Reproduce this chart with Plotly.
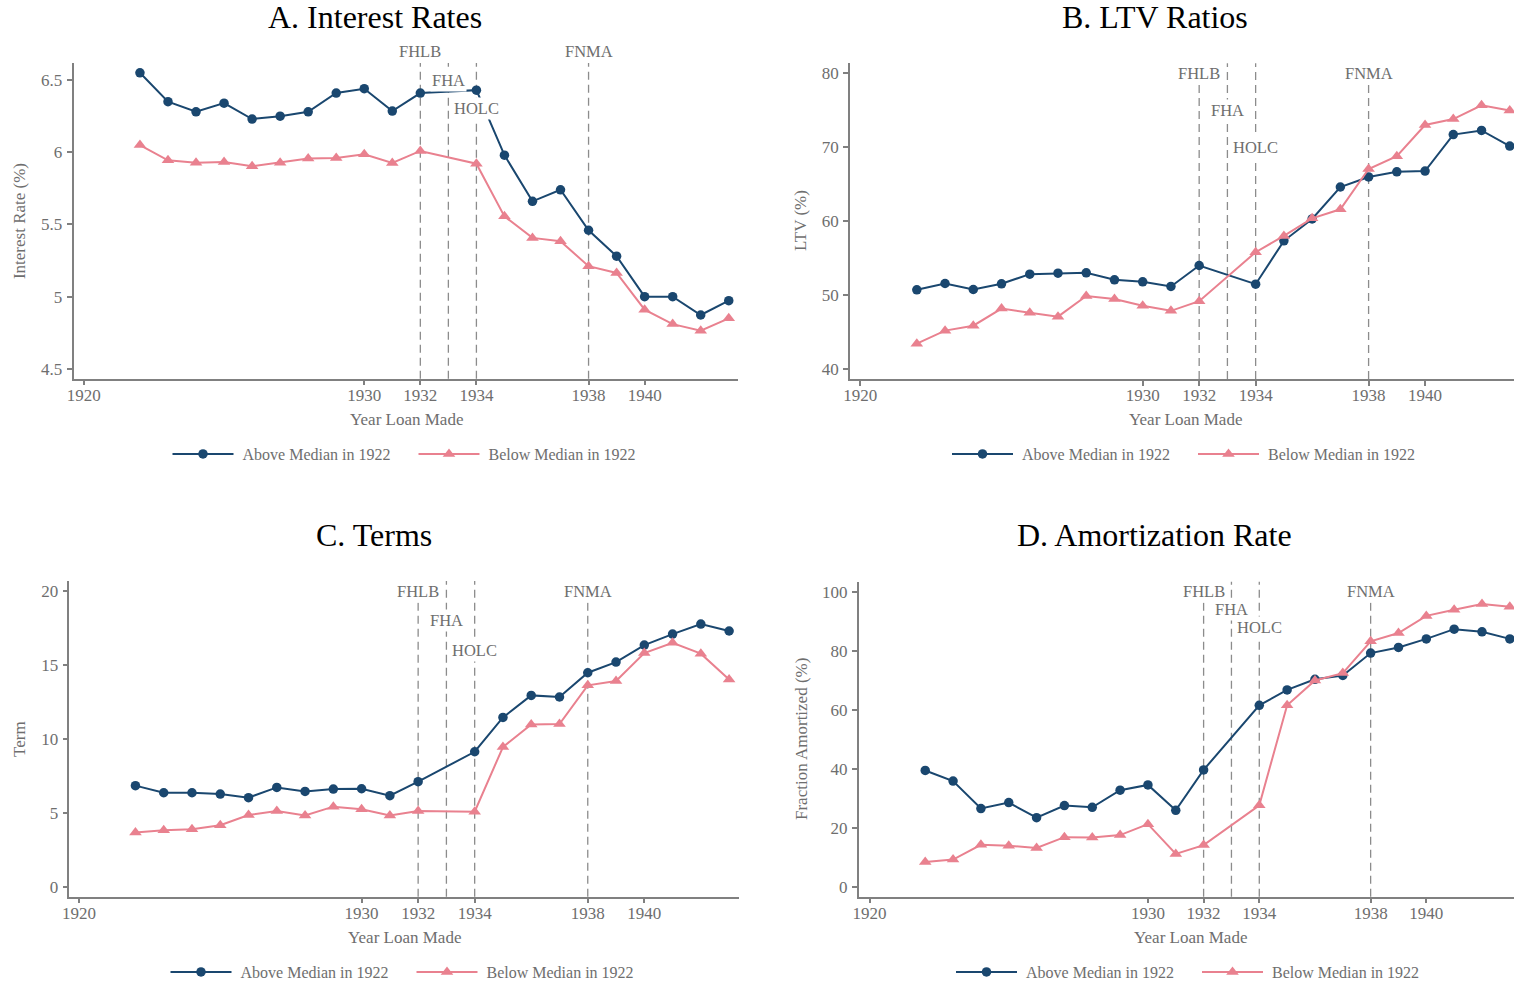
import plotly.graph_objects as go

# ---------------- data ----------------
years = [1922, 1923, 1924, 1925, 1926, 1927, 1928, 1929, 1930, 1931, 1932,
         1934, 1935, 1936, 1937, 1938, 1939, 1940, 1941, 1942, 1943]

rate_above = [6.55, 6.35, 6.28, 6.34, 6.23, 6.25, 6.28, 6.41, 6.44, 6.285, 6.41,
              6.43, 5.98, 5.66, 5.74, 5.46, 5.28, 5.00, 5.00, 4.873, 4.972]
rate_below = [6.05, 5.944, 5.928, 5.933, 5.903, 5.928, 5.956, 5.961, 5.986, 5.926, 6.009,
              5.921, 5.556, 5.407, 5.384, 5.211, 5.164, 4.91, 4.81, 4.764, 4.85]

ltv_above = [50.68, 51.53, 50.72, 51.49, 52.8, 52.93, 52.98, 52.03, 51.76, 51.13, 53.97,
             51.44, 57.31, 60.27, 64.6, 65.96, 66.66, 66.75, 71.7, 72.26, 70.14]
ltv_below = [43.39, 45.15, 45.82, 48.13, 47.58, 47.04, 49.84, 49.44, 48.51, 47.83, 49.14,
             55.77, 57.98, 60.36, 61.58, 67.04, 68.76, 73.0, 73.8, 75.67, 74.95]

term_above = [6.85, 6.37, 6.37, 6.28, 6.04, 6.73, 6.46, 6.62, 6.64, 6.17, 7.12,
              9.14, 11.46, 12.95, 12.84, 14.48, 15.2, 16.35, 17.09, 17.77, 17.3]
term_below = [3.69, 3.83, 3.9, 4.17, 4.86, 5.14, 4.84, 5.43, 5.25, 4.84, 5.14,
              5.09, 9.46, 10.99, 11.01, 13.63, 13.92, 15.81, 16.51, 15.77, 14.03]

amort_above = [39.4, 35.8, 26.5, 28.5, 23.4, 27.5, 26.9, 32.7, 34.5, 25.9, 39.6,
               61.5, 66.7, 70.3, 71.6, 79.2, 81.1, 84.0, 87.3, 86.4, 84.0]
amort_below = [8.4, 9.2, 14.2, 13.9, 13.1, 16.8, 16.7, 17.5, 21.2, 11.1, 14.1,
               27.6, 61.5, 69.9, 72.4, 83.2, 86.0, 91.8, 93.9, 95.8, 94.9]

policy_years = [1932, 1933, 1934, 1938]
policy_labels = ["FHLB", "FHA", "HOLC", "FNMA"]

x_tickvals = [1920, 1930, 1932, 1934, 1938, 1940]
x_ticktext = ["1920", "1930", "1932", "1934", "1938", "1940"]

series_names = ["Above Median in 1922", "Below Median in 1922"]

panel_titles = ["A. Interest Rates", "B. LTV Ratios", "C. Terms", "D. Amortization Rate"]
y_titles = ["Interest Rate (%)", "LTV (%)", "Term", "Fraction Amortized (%)"]

rate_ticks = [4.5, 5, 5.5, 6, 6.5]
rate_ticktext = ["4.5", "5", "5.5", "6", "6.5"]
ltv_ticks = [40, 50, 60, 70, 80]
term_ticks = [0, 5, 10, 15, 20]
amort_ticks = [0, 20, 40, 60, 80, 100]

rate_label_y = [6.7, 6.5, 6.3, 6.7]
ltv_label_y = [80, 75, 70, 80]
term_label_y = [20, 18, 16, 20]
amort_label_y = [100, 94, 88, 100]

# ---------------- style / layout ----------------
W, H = 1514, 985
NAVY = "#1a476f"
PINK = "#e9818f"
GRAY = "#6e6e6e"
AXIS = "#808080"
FONT = "Liberation Serif, Times New Roman, serif"


def fx(p):
    return p / W


def fy(p):
    return 1 - p / H


panels = [
    dict(ax="", a=rate_above, b=rate_below, xpx=(73.5, 738), ypx=(63, 378.7),
         xr=[1919.63, 1943.33], yr=[4.432, 6.618], yt=rate_ticks, ytt=rate_ticktext,
         lab=rate_label_y, title_xy=(374.5, 17.5), xt_xy=(406.5, 419.5), yt_xy=(19.4, 220.7),
         leg="legend", leg_xy=(413.5, 454)),
    dict(ax="2", a=ltv_above, b=ltv_below, xpx=(849.9, 1514), ypx=(63.3, 379),
         xr=[1919.63, 1943.15], yr=[38.6, 81.35], yt=ltv_ticks, ytt=[str(v) for v in ltv_ticks],
         lab=ltv_label_y, title_xy=(1154.5, 17.5), xt_xy=(1185, 419.5), yt_xy=(801, 221),
         leg="legend2", leg_xy=(1193, 454)),
    dict(ax="3", a=term_above, b=term_below, xpx=(69.3, 739), ypx=(581, 896.7),
         xr=[1919.66, 1943.35], yr=[-0.655, 20.68], yt=term_ticks, ytt=[str(v) for v in term_ticks],
         lab=term_label_y, title_xy=(373.7, 535.3), xt_xy=(404, 937), yt_xy=(19, 739),
         leg="legend3", leg_xy=(411.5, 972)),
    dict(ax="4", a=amort_above, b=amort_below, xpx=(858.7, 1514), ypx=(581.7, 896.7),
         xr=[1919.61, 1943.15], yr=[-3.39, 103.39], yt=amort_ticks, ytt=[str(v) for v in amort_ticks],
         lab=amort_label_y, title_xy=(1154.7, 535.3), xt_xy=(1190, 937), yt_xy=(801, 739),
         leg="legend4", leg_xy=(1197, 972)),
]

fig = go.Figure()
annotations = []
shapes = []
layout_extra = {}

for i, p in enumerate(panels):
    xa = "x" + p["ax"]
    ya = "y" + p["ax"]
    fig.add_trace(go.Scatter(
        x=years, y=p["a"], mode="lines+markers", name="\u00a0" + series_names[0],
        xaxis=xa, yaxis=ya, legend=p["leg"],
        line=dict(color=NAVY, width=2), marker=dict(symbol="circle", size=9.5, color=NAVY)))
    fig.add_trace(go.Scatter(
        x=years, y=p["b"], mode="lines+markers", name="\u00a0" + series_names[1],
        xaxis=xa, yaxis=ya, legend=p["leg"],
        line=dict(color=PINK, width=2), marker=dict(symbol="triangle-up", size=11, color=PINK)))

    layout_extra["xaxis" + p["ax"]] = dict(
        domain=[fx(p["xpx"][0]), fx(p["xpx"][1])], range=p["xr"], anchor=ya,
        tickvals=x_tickvals, ticktext=x_ticktext, showgrid=False, zeroline=False,
        showline=True, linecolor=AXIS, linewidth=1.5, ticks="outside", ticklen=5,
        tickwidth=1.5, tickcolor=AXIS, automargin=False, ticklabelstandoff=-5,
        tickfont=dict(family=FONT, size=17, color=GRAY))
    layout_extra["yaxis" + p["ax"]] = dict(
        domain=[fy(p["ypx"][1]), fy(p["ypx"][0])], range=p["yr"], anchor=xa,
        tickvals=p["yt"], ticktext=p["ytt"], showgrid=False, zeroline=False,
        showline=True, linecolor=AXIS, linewidth=1.5, ticks="outside", ticklen=5,
        tickwidth=1.5, tickcolor=AXIS, automargin=False, ticklabelstandoff=1,
        tickfont=dict(family=FONT, size=17, color=GRAY))

    layout_extra[p["leg"]] = dict(
        x=fx(p["leg_xy"][0]), y=fy(p["leg_xy"][1]), xanchor="center", yanchor="middle",
        orientation="h", itemwidth=61, entrywidth=170, font=dict(family=FONT, size=16, color=GRAY),
        bgcolor="rgba(0,0,0,0)", borderwidth=0)

    # policy vertical lines and labels
    y0, y1 = p["yr"]
    for yr_, lab, ly in zip(policy_years, policy_labels, p["lab"]):
        shapes.append(dict(type="line", xref=xa, yref=ya + " domain", x0=yr_, x1=yr_, y0=0, y1=1,
                           line=dict(color="#8c8c8c", width=1.3, dash="8px,5px"), layer="below"))
        annotations.append(dict(xref=xa, yref=ya + " domain", x=yr_, y=(ly - y0) / (y1 - y0),
                                text=lab, showarrow=False, xanchor="center", yanchor="middle",
                                bgcolor="white", borderpad=1,
                                font=dict(family=FONT, size=16.5, color=GRAY)))

    annotations.append(dict(xref="paper", yref="paper", x=fx(p["title_xy"][0]), y=fy(p["title_xy"][1]),
                            text=panel_titles[i], showarrow=False, xanchor="center", yanchor="middle",
                            font=dict(family=FONT, size=32, color="black")))
    annotations.append(dict(xref="paper", yref="paper", x=fx(p["xt_xy"][0]), y=fy(p["xt_xy"][1]),
                            text="Year Loan Made", showarrow=False, xanchor="center", yanchor="middle",
                            font=dict(family=FONT, size=17, color=GRAY)))
    annotations.append(dict(xref="paper", yref="paper", x=fx(p["yt_xy"][0]), y=fy(p["yt_xy"][1]),
                            text=y_titles[i], showarrow=False, xanchor="center", yanchor="middle",
                            textangle=-90, font=dict(family=FONT, size=17, color=GRAY)))

fig.update_layout(
    template="none",
    width=W, height=H, margin=dict(l=0, r=0, t=0, b=0, pad=0, autoexpand=False),
    paper_bgcolor="white", plot_bgcolor="white",
    font=dict(family=FONT, color=GRAY),
    annotations=annotations, shapes=shapes, showlegend=True,
    **layout_extra)

fig.write_html("out.html", config={"displayModeBar": False},
               post_script="document.body.style.margin='0';document.body.style.overflow='hidden';")
